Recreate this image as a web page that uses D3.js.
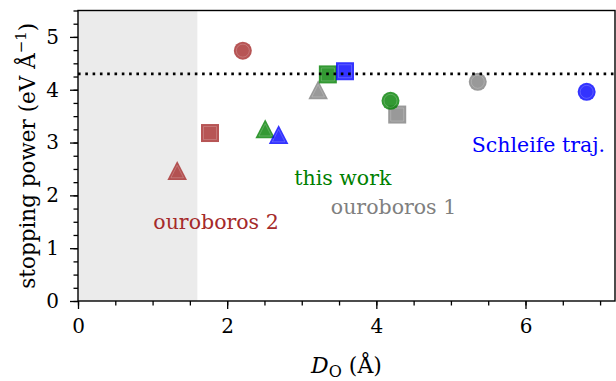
<!DOCTYPE html>
<html>
<head>
<meta charset="utf-8">
<script src="https://cdn.jsdelivr.net/npm/d3@7"></script>
<style>
  body { margin: 0; background: white; }
  text { font-family: "DejaVu Serif", serif; }
</style>
</head>
<body>
<script>
'use strict';

// data (x = D_O in Å, y = stopping power)
const seriesNames = ["ouroboros 1", "ouroboros 2", "this work", "Schleife traj."];
const seriesColors = ["gray", "brown", "green", "blue"];
const markerShapes = ["circle", "square", "triangle"];
const ouroboros1X = [5.36, 4.28, 3.22];
const ouroboros1Y = [4.15, 3.53, 4.00];
const ouroboros2X = [2.21, 1.77, 1.33];
const ouroboros2Y = [4.74, 3.18, 2.47];
const thisWorkX = [4.19, 3.35, 2.51];
const thisWorkY = [3.79, 4.29, 3.26];
const schleifeX = [6.82, 3.58, 2.69];
const schleifeY = [3.96, 4.35, 3.15];
const referenceLevel = 4.3;
const shadedLimit = 1.6;
const xTicks = [0, 2, 4, 6];
const yTicks = [0, 1, 2, 3, 4, 5];

const m = { width: 616, height: 381, left: 78, right: 615, top: 10.5, bottom: 301 };

const svg = d3.select('body').append('svg')
  .attr('width', m.width)
  .attr('height', m.height);

const xScale = d3.scaleLinear().domain([0, 7.2]).range([m.left, m.right]);
const yScale = d3.scaleLinear().domain([0, 5.5]).range([m.bottom, m.top]);

// shaded region
svg.append('rect')
  .attr('x', xScale(0))
  .attr('y', yScale(5.5))
  .attr('width', xScale(shadedLimit) - xScale(0))
  .attr('height', yScale(0) - yScale(5.5))
  .attr('fill', '#ebebeb');

// axes: major + minor ticks
function drawX() {
  svg.append('g')
    .attr('transform', 'translate(0,' + m.bottom + ')')
    .call(d3.axisBottom(xScale).tickValues(d3.range(0, 7.21, 0.5)).tickSize(4.5).tickFormat(''))
    .call(g => g.select('.domain').remove())
    .call(g => g.selectAll('line').attr('stroke-width', 1.3));
  svg.append('g')
    .attr('transform', 'translate(0,' + m.bottom + ')')
    .call(d3.axisBottom(xScale).tickValues(xTicks).tickSize(8).tickPadding(10).tickFormat(d3.format('d')))
    .call(g => g.select('.domain').remove())
    .call(g => g.selectAll('line').attr('stroke-width', 1.3))
    .call(g => g.selectAll('text').style('font-size', '20px').style('font-family', '"DejaVu Serif", serif'));
}

function drawY() {
  svg.append('g')
    .attr('transform', 'translate(' + m.left + ',0)')
    .call(d3.axisLeft(yScale).tickValues(d3.range(0, 5.51, 0.25)).tickSize(4.5).tickFormat(''))
    .call(g => g.select('.domain').remove())
    .call(g => g.selectAll('line').attr('stroke-width', 1.3));
  svg.append('g')
    .attr('transform', 'translate(' + m.left + ',0)')
    .call(d3.axisLeft(yScale).tickValues(yTicks).tickSize(8).tickPadding(11).tickFormat(d3.format('d')))
    .call(g => g.select('.domain').remove())
    .call(g => g.selectAll('line').attr('stroke-width', 1.3))
    .call(g => g.selectAll('text').style('font-size', '20px').style('font-family', '"DejaVu Serif", serif'));
}

drawX();
drawY();

// marker paths (bbox-centred, matplotlib style)
function markerPath(shape) {
  if (shape === 'circle') return d3.symbol(d3.symbolCircle, Math.PI * 9 * 9)();
  if (shape === 'square') return 'M-9,-9H9V9H-9Z';
  return 'M0,-9.5L9.8,9.5L-9.8,9.5Z';
}
function innerPath(shape) {
  if (shape === 'circle') return d3.symbol(d3.symbolCircle, Math.PI * 6.5 * 6.5)();
  if (shape === 'square') return 'M-6.5,-6.5H6.5V6.5H-6.5Z';
  return 'M0,-5.2L6.3,7.2L-6.3,7.2Z';
}

const seriesX = [ouroboros1X, ouroboros2X, thisWorkX, schleifeX];
const seriesY = [ouroboros1Y, ouroboros2Y, thisWorkY, schleifeY];

seriesNames.forEach((name, i) => {
  const pts = markerShapes.map((s, j) => ({ shape: s, x: seriesX[i][j], y: seriesY[i][j] }));
  const g = svg.append('g').attr('class', 'series');
  const mk = g.selectAll('.marker')
    .data(pts)
    .enter()
    .append('g')
    .attr('transform', d => 'translate(' + xScale(d.x) + ',' + yScale(d.y) + ')');
  mk.append('path')
    .attr('d', d => markerPath(d.shape))
    .attr('fill', seriesColors[i])
    .attr('fill-opacity', 0.8);
  mk.append('path')
    .attr('d', d => innerPath(d.shape))
    .attr('fill', 'none')
    .attr('stroke', 'white')
    .attr('stroke-opacity', 0.25)
    .attr('stroke-width', 0.8);
});

// reference line
svg.append('line')
  .attr('x1', xScale(0))
  .attr('x2', xScale(7.2))
  .attr('y1', yScale(referenceLevel))
  .attr('y2', yScale(referenceLevel))
  .attr('stroke', 'black')
  .attr('stroke-width', 2.6)
  .attr('stroke-dasharray', '2.6,4.7');

// series labels placed in data coordinates
const labelAt = [[3.39, 1.64], [1.01, 1.355], [2.9, 2.19], [5.28, 2.82]];
seriesNames.forEach((name, i) => {
  svg.append('text')
    .attr('x', xScale(labelAt[i][0]))
    .attr('y', yScale(labelAt[i][1]))
    .attr('fill', seriesColors[i])
    .style('font-size', '20.5px')
    .text(name);
});

// frame
svg.append('rect')
  .attr('x', m.left)
  .attr('y', m.top)
  .attr('width', m.right - m.left)
  .attr('height', m.bottom - m.top)
  .attr('fill', 'none')
  .attr('stroke', 'black')
  .attr('stroke-width', 1.4);

// axis labels
const xl = svg.append('text')
  .attr('x', (m.left + m.right) / 2)
  .attr('y', 373)
  .attr('text-anchor', 'middle')
  .style('font-size', '22px');
xl.append('tspan').style('font-style', 'italic').text('D');
xl.append('tspan').attr('dy', 4).style('font-size', '16px').text('O');
xl.append('tspan').attr('dy', -4).text(' (Å)');

const yl = svg.append('text')
  .attr('transform', 'translate(35,' + ((m.top + m.bottom) / 2) + ')rotate(-90)')
  .attr('text-anchor', 'middle')
  .style('font-size', '21.5px');
yl.append('tspan').text('stopping power (eV Å');
yl.append('tspan').attr('dy', -9).style('font-size', '15px').text('−1');
yl.append('tspan').attr('dy', 9).text(')');
</script>
</body>
</html>
